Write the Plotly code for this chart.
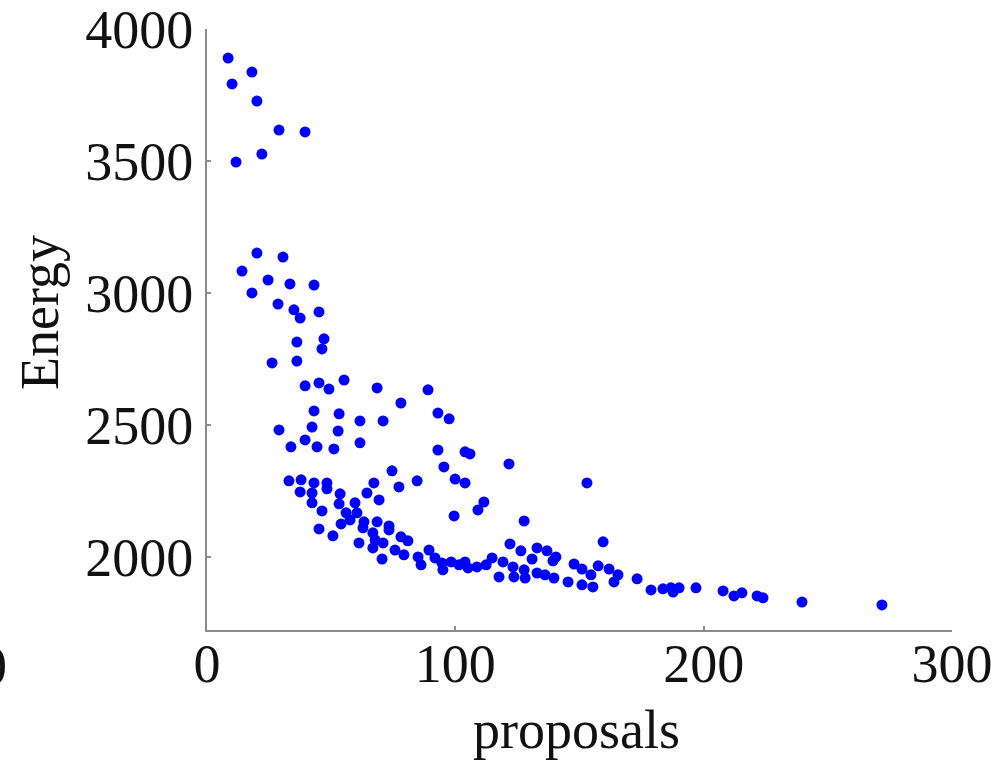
import plotly.graph_objects as go

proposals = [
    8.5, 18.1, 10.1, 20.1, 29.0, 39.5, 11.7, 22.1,
    20.1, 30.6, 14.1, 24.6, 33.4, 43.1, 18.1, 28.6, 35.0, 37.5, 45.1, 36.2,
    47.1, 46.3, 26.2, 36.2, 39.5, 45.1, 49.1, 55.2, 68.5, 89.0,
    43.1, 53.2, 61.6, 70.9, 78.1, 93.0, 97.5, 29.0, 42.3, 52.8,
    39.5, 33.8, 44.3, 51.1, 61.6, 93.0, 103.9, 105.9, 121.6, 153.0,
    74.5, 95.4, 99.9, 103.9, 111.5, 109.1, 99.5, 84.6, 77.3, 67.2,
    64.4, 69.3, 33.0, 37.9, 37.5, 43.1, 42.3, 48.3, 48.3, 42.3,
    46.3, 53.6, 53.2, 59.6, 56.0, 60.4, 57.6, 54.0, 45.1, 50.7,
    63.2, 62.8, 68.5, 73.3, 73.3, 66.8, 67.7, 61.2, 70.9, 66.8,
    70.5, 78.1, 75.7, 80.9, 79.3, 85.0, 86.2, 89.4, 91.8, 94.6,
    95.0, 98.3, 101.5, 103.9, 105.1, 108.7, 112.4, 114.8, 117.6, 119.2,
    122.0, 123.2, 123.6, 126.4, 127.7, 128.1, 130.9, 132.9, 132.9, 136.9,
    136.1, 139.3, 140.5, 139.7, 145.4, 127.7, 159.5, 147.8, 151.0, 154.6,
    157.5, 161.9, 165.5, 163.9, 151.0, 155.4, 173.2, 178.8, 183.6, 186.8,
    187.7, 190.1, 196.9, 207.8, 212.2, 215.4, 221.5, 223.9, 239.6, 271.8,
]

energy = [
    3890, 3837, 3792, 3727, 3617, 3610, 3496, 3526,
    3151, 3136, 3083, 3049, 3034, 3030, 3000, 2958, 2936, 2905, 2928, 2814,
    2826, 2788, 2735, 2742, 2648, 2659, 2636, 2670, 2640, 2633,
    2553, 2542, 2515, 2515, 2583, 2545, 2523, 2481, 2492, 2477,
    2443, 2417, 2417, 2409, 2432, 2405, 2398, 2390, 2352, 2280,
    2326, 2341, 2295, 2280, 2208, 2178, 2155, 2288, 2265, 2280,
    2242, 2216, 2288, 2292, 2246, 2280, 2242, 2280, 2258, 2205,
    2174, 2239, 2201, 2205, 2167, 2167, 2140, 2125, 2106, 2080,
    2133, 2110, 2133, 2117, 2102, 2091, 2064, 2053, 2053, 2034,
    1992, 2076, 2026, 2061, 2008, 2000, 1970, 2026, 1996, 1977,
    1951, 1981, 1970, 1981, 1958, 1962, 1970, 1996, 1924, 1981,
    2049, 1962, 1924, 2023, 1951, 1920, 1992, 2034, 1939, 2023,
    1932, 1985, 2000, 1920, 1905, 2136, 2057, 1973, 1954, 1932,
    1966, 1954, 1932, 1905, 1894, 1886, 1917, 1875, 1879, 1883,
    1867, 1883, 1883, 1871, 1852, 1864, 1852, 1845, 1829, 1818,
]

x_ticks = [0, 100, 200, 300]
y_ticks = [2000, 2500, 3000, 3500, 4000]

FONT = "Liberation Serif, Times New Roman, serif"
FS = 54

fig = go.Figure()
fig.add_trace(go.Scatter(
    x=proposals, y=energy, mode="markers",
    marker=dict(color="#0000ff", size=11, line=dict(width=0)),
    showlegend=False, hoverinfo="skip",
))

axis_common = dict(
    showgrid=False, zeroline=False, showline=True,
    linecolor="#8c8c8c", linewidth=2,
    ticks="inside", ticklen=4, tickwidth=1.5, tickcolor="#8c8c8c",
    tickfont=dict(family=FONT, size=FS, color="#111111"),
    ticklabeloverflow="allow",
    mirror=False,
)

fig.update_xaxes(range=[0, 300], tickvals=x_ticks, ticktext=[str(v) for v in x_ticks],
                 ticklabelstandoff=-15, **axis_common)
fig.update_yaxes(range=[1723, 4000], tickvals=y_ticks, ticktext=[str(v) for v in y_ticks],
                 ticklabelstandoff=1, **axis_common)

fig.update_layout(
    width=1001, height=761,
    margin=dict(l=207, r=49, t=29, b=131, autoexpand=False),
    paper_bgcolor="white", plot_bgcolor="white",
    font=dict(family=FONT, size=FS, color="#111111"),
    annotations=[
        dict(text="Energy", xref="paper", yref="paper", x=-0.2242, y=0.529,
             xanchor="center", yanchor="middle", textangle=-90, showarrow=False,
             font=dict(family=FONT, size=FS, color="#111111")),
        dict(text="proposals", xref="paper", yref="paper", x=0.4966, y=-0.166,
             xanchor="center", yanchor="middle", showarrow=False,
             font=dict(family=FONT, size=FS, color="#111111")),
        dict(text="0", xref="paper", yref="paper", x=-0.2865, y=-0.0606,
             xanchor="center", yanchor="middle", showarrow=False,
             font=dict(family=FONT, size=FS, color="#111111")),
    ],
)

fig.write_html("out.html", config={"displayModeBar": False},
               post_script="document.body.style.margin='0';document.body.style.overflow='hidden';")
